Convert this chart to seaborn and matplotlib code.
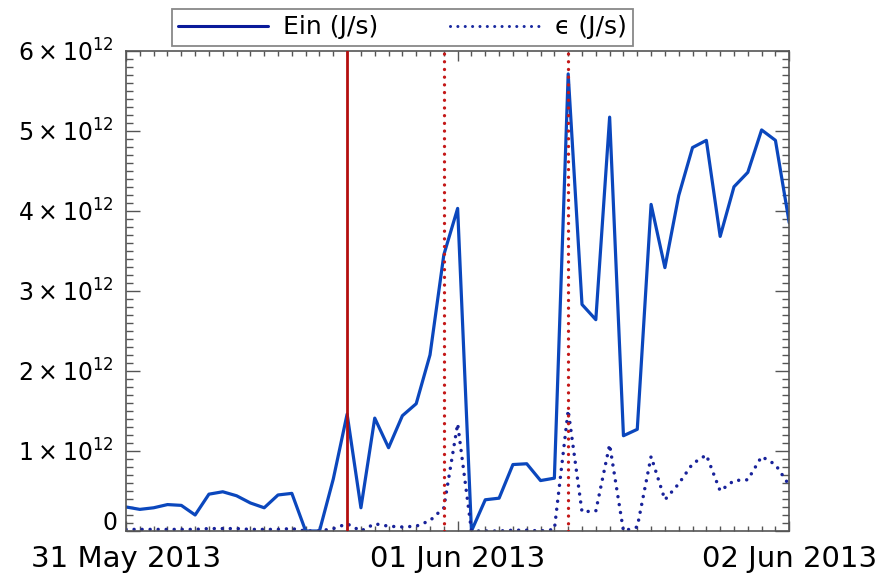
import numpy as np
import pandas as pd
import matplotlib
matplotlib.use("Agg")
import matplotlib.pyplot as plt
import matplotlib.dates as mdates
import matplotlib.ticker as mticker
import matplotlib.transforms as mtransforms
from matplotlib.lines import Line2D
import seaborn as sns

# Hourly samples, 31 May 2013 00:00 -> 02 Jun 2013 00:00 (units of 1e12 J/s)
start_time = "2013-05-31 00:00"
ein_values = [0.30, 0.27, 0.29, 0.33, 0.32, 0.20, 0.46, 0.49, 0.44, 0.35,
              0.29, 0.45, 0.47, 0.00, 0.00, 0.65, 1.46, 0.29, 1.41, 1.04,
              1.44, 1.59, 2.20, 3.45, 4.03, 0.00, 0.39, 0.41, 0.83, 0.84,
              0.63, 0.66, 5.71, 2.83, 2.64, 5.17, 1.19, 1.27, 4.08, 3.29,
              4.19, 4.79, 4.88, 3.68, 4.30, 4.48, 5.01, 4.88, 3.85]
eps_values = [0.02, 0.02, 0.02, 0.02, 0.02, 0.02, 0.03, 0.03, 0.03, 0.02,
              0.02, 0.02, 0.03, 0.00, 0.00, 0.03, 0.09, 0.00, 0.09, 0.06,
              0.05, 0.06, 0.13, 0.29, 1.34, 0.00, 0.00, 0.00, 0.01, 0.01,
              0.00, 0.02, 1.51, 0.24, 0.25, 1.08, 0.00, 0.05, 0.93, 0.39,
              0.59, 0.84, 0.95, 0.50, 0.63, 0.64, 0.93, 0.83, 0.57]
series_labels = ["Ein (J/s)", "\u03f5 (J/s)"]
onset_time = "2013-05-31 16:00"
event_times = ["2013-05-31 23:00", "2013-06-01 08:00"]
x_limits = ["2013-05-31 00:00", "2013-06-02 00:00"]
y_tick_values = [0, 1, 2, 3, 4, 5, 6]
scale = 1e12

times = pd.date_range(start_time, periods=len(ein_values), freq="h")
df = pd.DataFrame({
    "time": times,
    "ein": np.array(ein_values) * scale,
    "eps": np.array(eps_values) * scale,
})

sns.set_style("ticks")
plt.rcParams["font.family"] = ["DejaVu Sans"]
plt.rcParams["mathtext.fontset"] = "dejavusans"
plt.rcParams["text.color"] = "black"
plt.rcParams["xtick.labelcolor"] = "black"
plt.rcParams["ytick.labelcolor"] = "black"

ein_color = "#0b47bd"
eps_color = "#18229a"
red = "#b40f0f"
dot_style = (0, (0.01, 2.3))

fig = plt.figure(figsize=(8.87, 5.80), dpi=100)
ax = fig.add_axes([0.1421, 0.0845, 0.8898 - 0.1421, 0.9126 - 0.0845])

sns.lineplot(data=df, x="time", y="ein", ax=ax, color=ein_color,
             linewidth=2.3, legend=False)
sns.lineplot(data=df, x="time", y="eps", ax=ax, color=eps_color,
             linewidth=2.5, legend=False)
ax.lines[1].set_linestyle(dot_style)
ax.lines[1].set_dash_capstyle("round")

ax.axvline(pd.Timestamp(onset_time), color=red, linewidth=2.0, zorder=5)
for t in event_times:
    ln = ax.axvline(pd.Timestamp(t), color="#c41818", linewidth=2.4,
                    linestyle=dot_style, zorder=5)
    ln.set_dash_capstyle("round")

ax.set_xlim(pd.Timestamp(x_limits[0]), pd.Timestamp(x_limits[1]))
ax.set_ylim(0, y_tick_values[-1] * scale)
ax.set_xlabel("")
ax.set_ylabel("")

ax.xaxis.set_major_locator(mdates.DayLocator())
ax.xaxis.set_minor_locator(mdates.HourLocator())
ax.xaxis.set_major_formatter(mdates.DateFormatter("%d %b %Y"))

ax.yaxis.set_major_locator(mticker.FixedLocator([v * scale for v in y_tick_values]))
ax.yaxis.set_minor_locator(mticker.MultipleLocator(0.1 * scale))


def fmt_y(v, pos):
    n = int(round(v / scale))
    return "0" if n == 0 else r"$%d\times10^{12}$" % n


ax.yaxis.set_major_formatter(mticker.FuncFormatter(fmt_y))

tick_color = "#555555"
ax.tick_params(axis="both", which="both", direction="in", top=True,
               right=True, color=tick_color, width=1.0)
ax.tick_params(axis="x", which="major", length=7, labelsize=21, pad=10)
ax.tick_params(axis="x", which="minor", length=3.5)
ax.tick_params(axis="y", which="major", length=10, labelsize=17, pad=9)
ax.tick_params(axis="y", which="minor", length=5)
for s in ax.spines.values():
    s.set_color(tick_color)
    s.set_linewidth(1.2)

# nudge the zero label up and right
zero_lbl = ax.yaxis.get_major_ticks()[0].label1
zero_lbl.set_transform(zero_lbl.get_transform() +
                       mtransforms.ScaledTranslation(4 / 100, 10 / 100, fig.dpi_scale_trans))

handles = [
    Line2D([], [], color="#0a1a9a", linewidth=2.2),
    Line2D([], [], color="#1a2aa0", linewidth=2.2, linestyle=(0, (0.01, 2.4)),
           dash_capstyle="round"),
]
leg = fig.legend(handles, series_labels, loc="upper left",
                 bbox_to_anchor=(172 / 887, 1 - 9 / 580),
                 ncol=2, fontsize=18, frameon=True, fancybox=False,
                 edgecolor="#888888", framealpha=1, handlelength=3.6,
                 handletextpad=0.6, columnspacing=2.85, borderpad=0.25,
                 borderaxespad=0)
leg.get_frame().set_linewidth(1.3)

fig.savefig("out.png", dpi=100)
